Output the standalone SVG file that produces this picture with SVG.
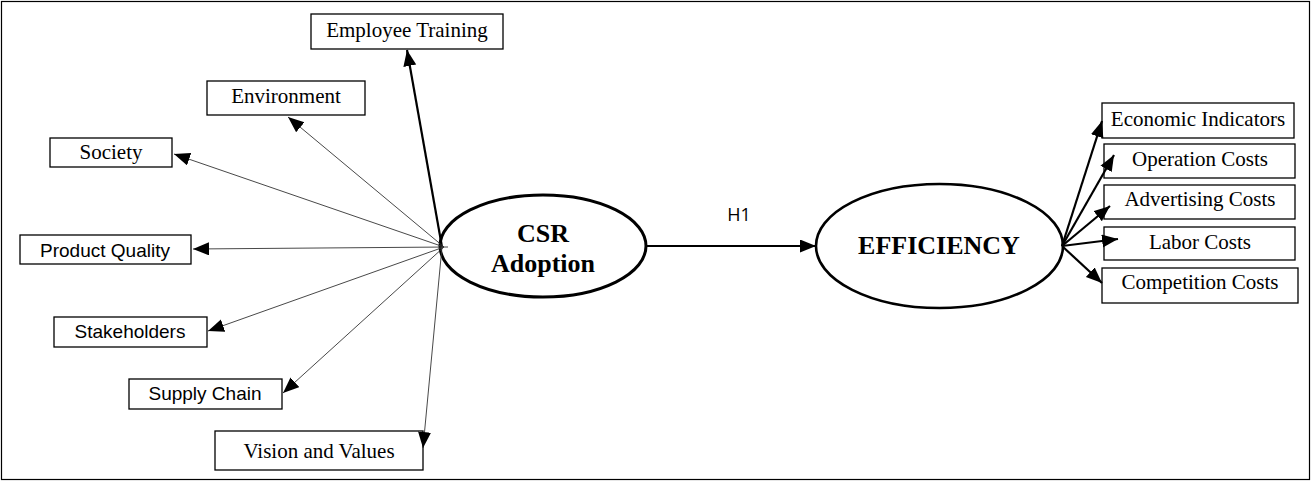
<svg xmlns="http://www.w3.org/2000/svg" width="1312" height="482" viewBox="0 0 1312 482">
<style>
.box{fill:#fff;stroke:#000;stroke-width:1.3}
.serif{font-family:"Liberation Serif","Times New Roman",serif;font-size:21px;fill:#000;text-anchor:middle}
.sans{font-family:"Liberation Sans",Arial,sans-serif;font-size:19px;fill:#000;text-anchor:middle}
.big{font-family:"Liberation Serif","Times New Roman",serif;font-size:26px;font-weight:bold;fill:#000;text-anchor:middle}
.ell{fill:#fff;stroke:#000}
.thin{stroke:#333;stroke-width:0.9;fill:none;marker-end:url(#ah)}
.thick{stroke:#000;stroke-width:2.2;fill:none;marker-end:url(#ah)}
</style>
<defs>
<marker id="ah" markerUnits="userSpaceOnUse" markerWidth="17" markerHeight="14" refX="16" refY="6.5" orient="auto">
<path d="M0,0 L16,6.5 L0,13 z" fill="#000"/>
</marker>
</defs>
<rect x="1.5" y="1.5" width="1308" height="478" fill="#fff" stroke="#000" stroke-width="1.2"/>
<g id="employee-training"><rect class="box" x="311" y="14" width="192" height="35"/><text class="serif" x="407" y="37">Employee Training</text></g>
<g id="environment"><rect class="box" x="207" y="81" width="158" height="34"/><text class="serif" x="286" y="103">Environment</text></g>
<g id="society"><rect class="box" x="50" y="138" width="122" height="29"/><text class="serif" x="111" y="159">Society</text></g>
<g id="product-quality"><rect class="box" x="20" y="235" width="171" height="29"/><text class="sans" x="105" y="257">Product Quality</text></g>
<g id="stakeholders"><rect class="box" x="54" y="317" width="153" height="30"/><text class="sans" x="130" y="338">Stakeholders</text></g>
<g id="supply-chain"><rect class="box" x="129" y="379" width="153" height="30"/><text class="sans" x="205" y="400">Supply Chain</text></g>
<g id="vision-values"><rect class="box" x="215" y="431" width="208" height="39"/><text class="serif" x="319" y="458">Vision and Values</text></g>
<g id="csr-adoption"><ellipse class="ell" cx="543" cy="246" rx="103" ry="51" stroke-width="3"/><text class="big" x="543" y="242">CSR</text><text class="big" x="543" y="272">Adoption</text></g>
<g id="efficiency"><ellipse class="ell" cx="939.5" cy="246" rx="123.5" ry="62" stroke-width="2.6"/><text class="big" x="939" y="254">EFFICIENCY</text></g>
<g id="economic-indicators"><rect class="box" x="1102" y="103" width="192" height="35"/><text class="serif" x="1198" y="126">Economic Indicators</text></g>
<g id="operation-costs"><rect class="box" x="1104" y="144" width="191" height="34"/><text class="serif" x="1200" y="166">Operation Costs</text></g>
<g id="advertising-costs"><rect class="box" x="1104" y="185" width="191" height="34"/><text class="serif" x="1200" y="206">Advertising Costs</text></g>
<g id="labor-costs"><rect class="box" x="1104" y="227" width="191" height="33"/><text class="serif" x="1200" y="249">Labor Costs</text></g>
<g id="competition-costs"><rect class="box" x="1102" y="268" width="196" height="35"/><text class="serif" x="1200" y="289">Competition Costs</text></g>
<g id="connectors">
<line class="thick" x1="442" y1="247" x2="407" y2="50"/>
<line class="thin" x1="444" y1="247" x2="288" y2="117"/>
<line class="thin" x1="444" y1="247" x2="174" y2="154"/>
<line class="thin" x1="448" y1="247" x2="193" y2="249"/>
<line class="thin" x1="444" y1="247" x2="208" y2="331"/>
<line class="thin" x1="444" y1="247" x2="283" y2="393"/>
<line class="thin" x1="442" y1="247" x2="423" y2="448"/>
<line class="thick" x1="646" y1="246" x2="816" y2="246" stroke-width="2.6"/>
<line class="thick" x1="1062" y1="246" x2="1102" y2="121"/>
<line class="thick" x1="1062" y1="246" x2="1114" y2="155"/>
<line class="thick" x1="1062" y1="246" x2="1110" y2="206"/>
<line class="thick" x1="1062" y1="246" x2="1118" y2="239"/>
<line class="thick" x1="1062" y1="246" x2="1102" y2="283"/>
<text x="739" y="221" font-family="'Open Sans','Liberation Sans',sans-serif" font-size="18" fill="#000" text-anchor="middle">H1</text>
</g>
</svg>
